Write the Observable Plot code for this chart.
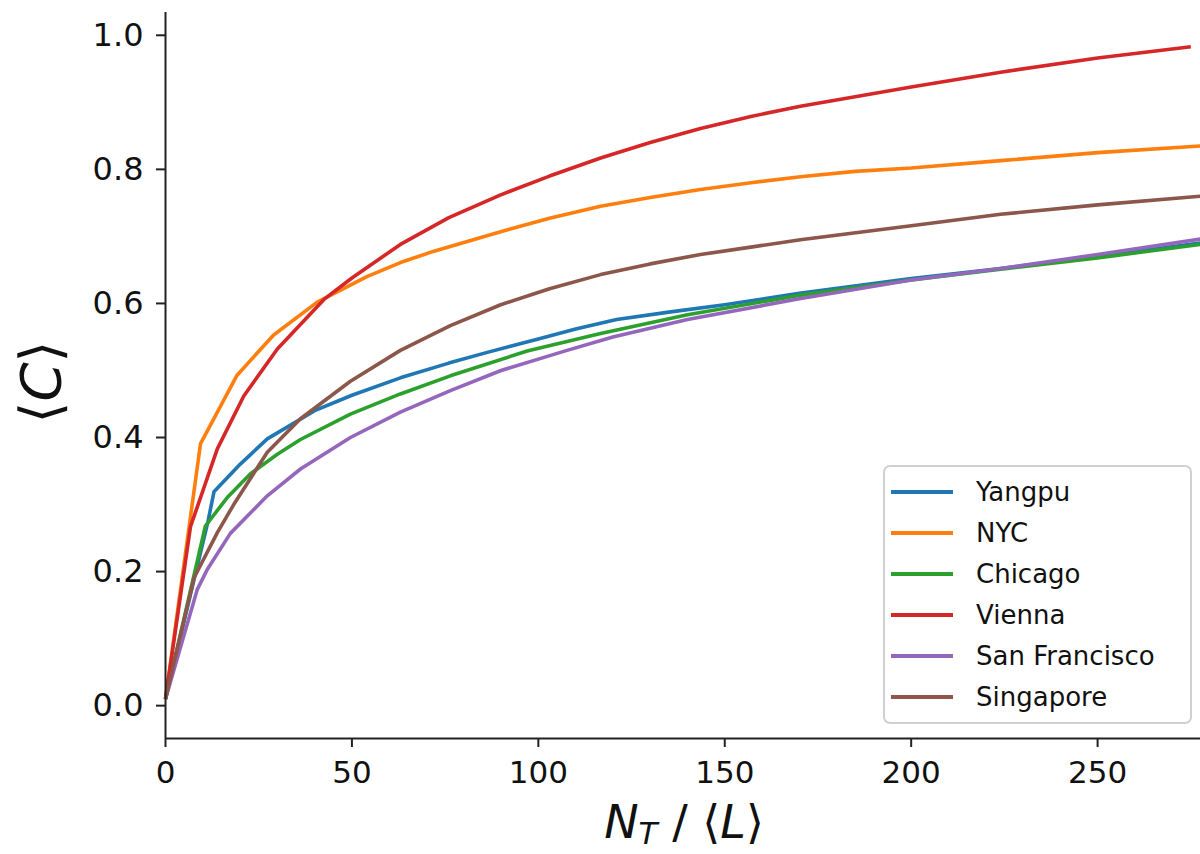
<!DOCTYPE html>
<html>
<head>
<meta charset="utf-8">
<script src="https://cdn.jsdelivr.net/npm/d3@7"></script>
<script src="https://cdn.jsdelivr.net/npm/@observablehq/plot@0.6"></script>
<style>
  html, body { margin: 0; padding: 0; background: white; }
  #wrap { position: relative; width: 1200px; height: 854px; font-family: "DejaVu Sans", sans-serif; }
  #legend { position: absolute; left: 883px; top: 465px; width: 305px; height: 255px;
    border: 2px solid #d0d0d0; border-radius: 7px; background: rgba(255,255,255,0.85); }
  .row { position: absolute; left: 0; height: 40px; }
  .swatch { position: absolute; left: 6px; width: 62px; height: 4px; }
  .lab { position: absolute; left: 91px; font-size: 26px; color: #111; white-space: nowrap; line-height: 1; }
</style>
</head>
<body>
<div id="wrap"></div>
<script>
// ---- data ----
const cities = ["Yangpu", "NYC", "Chicago", "Vienna", "San Francisco", "Singapore"];
const colors = ["#1f77b4", "#ff7f0e", "#2ca02c", "#d62728", "#9467bd", "#8c564b"];

const yangpuX = [0, 11.4, 13, 20, 27.3, 40, 50, 63, 76, 86.3, 100, 110, 121, 135, 150, 170, 200, 224, 250, 277.6];
const yangpuY = [0.01, 0.275, 0.319, 0.36, 0.398, 0.44, 0.463, 0.489, 0.511, 0.527, 0.547, 0.562, 0.576, 0.587, 0.598, 0.615, 0.637, 0.652, 0.670, 0.690];

const nycX = [0, 9.4, 19.2, 29, 40.7, 54, 63, 72, 89.9, 103, 116.7, 130, 143.5, 157, 170.3, 185, 200, 224, 250, 277.6];
const nycY = [0.01, 0.391, 0.493, 0.553, 0.602, 0.64, 0.661, 0.678, 0.707, 0.727, 0.745, 0.758, 0.770, 0.780, 0.789, 0.797, 0.802, 0.813, 0.825, 0.835];

const chicagoX = [0, 10.7, 16.5, 22.8, 30, 36.2, 49.6, 63, 76.4, 97, 116.7, 140, 170, 200, 224, 250, 277.6];
const chicagoY = [0.01, 0.268, 0.31, 0.346, 0.375, 0.397, 0.435, 0.465, 0.492, 0.529, 0.555, 0.583, 0.612, 0.635, 0.651, 0.668, 0.688];

const viennaX = [0, 6.7, 13.9, 21, 30, 42.5, 50, 63, 76, 89.9, 103, 116.7, 130, 143.5, 157, 170.3, 200, 224, 250, 275];
const viennaY = [0.01, 0.267, 0.383, 0.462, 0.532, 0.606, 0.638, 0.688, 0.728, 0.762, 0.79, 0.817, 0.840, 0.861, 0.879, 0.894, 0.923, 0.945, 0.966, 0.983];

const sfX = [0, 8.5, 11.2, 17.4, 27.3, 36.2, 49.6, 63, 76.4, 90, 107.7, 120, 140, 170, 200, 224, 250, 277.6];
const sfY = [0.01, 0.173, 0.203, 0.257, 0.313, 0.353, 0.400, 0.438, 0.47, 0.50, 0.53, 0.55, 0.576, 0.607, 0.635, 0.652, 0.673, 0.696];

const singaporeX = [0, 7.6, 13.9, 18.3, 27.3, 36.2, 49.6, 63, 76.4, 89.9, 103, 116.7, 130, 143.5, 157, 170.3, 200, 224, 250, 277.6];
const singaporeY = [0.01, 0.19, 0.258, 0.300, 0.378, 0.428, 0.484, 0.530, 0.567, 0.598, 0.622, 0.643, 0.659, 0.673, 0.684, 0.695, 0.716, 0.733, 0.747, 0.760];

const xTicks = [0, 50, 100, 150, 200, 250];
const yTicks = [0, 0.2, 0.4, 0.6, 0.8, 1.0];

// ---- build table ----
const seriesX = [yangpuX, nycX, chicagoX, viennaX, sfX, singaporeX];
const seriesY = [yangpuY, nycY, chicagoY, viennaY, sfY, singaporeY];
const rows = [];
cities.forEach((c, i) => seriesX[i].forEach((x, j) => rows.push({city: c, x, y: seriesY[i][j]})));

const xDom = [0, 277.6];
const yDom = [-0.049, 1.034];

const chart = Plot.plot({
  width: 1200,
  height: 854,
  marginLeft: 165,
  marginRight: 0,
  marginTop: 12,
  marginBottom: 116,
  style: {fontFamily: "DejaVu Sans", background: "white", color: "#111", overflow: "visible"},
  x: {domain: xDom},
  y: {domain: yDom},
  color: {domain: cities, range: colors},
  marks: [
    Plot.line(rows, {x: "x", y: "y", z: "city", stroke: "city", strokeWidth: 3.6, strokeLinejoin: "round", strokeLinecap: "butt"}),
    Plot.ruleX([0], {stroke: "#222", strokeWidth: 2}),
    Plot.ruleY([yDom[0]], {stroke: "#222", strokeWidth: 2}),
    Plot.axisX({ticks: xTicks, tickSize: 9, tickPadding: 13, fontSize: 31, label: null, strokeWidth: 2, stroke: "#222", fill: "#111"}),
    Plot.axisY({ticks: yTicks, tickSize: 9, tickPadding: 13, fontSize: 32, label: null, tickFormat: d3.format(".1f"), strokeWidth: 2, stroke: "#222", fill: "#111"})
  ]
});

const wrap = document.getElementById("wrap");
wrap.appendChild(chart);

// axis titles (real text)
const svg = d3.select(chart);
const xl = svg.append("text")
  .attr("x", 684).attr("y", 838)
  .attr("text-anchor", "middle")
  .attr("font-family", "DejaVu Sans")
  .attr("font-size", 46)
  .attr("fill", "#111");
xl.append("tspan").attr("font-style", "italic").text("N");
xl.append("tspan").attr("font-style", "italic").attr("font-size", 31).attr("dy", 6).text("T");
xl.append("tspan").attr("dy", -6).text(" / ⟨");
xl.append("tspan").attr("font-style", "italic").text("L");
xl.append("tspan").text("⟩");

const yl = svg.append("text")
  .attr("transform", "translate(60,382) rotate(-90)")
  .attr("text-anchor", "middle")
  .attr("font-family", "DejaVu Sans")
  .attr("font-size", 56)
  .attr("fill", "#111");
yl.append("tspan").text("⟨");
yl.append("tspan").attr("font-style", "italic").text("C");
yl.append("tspan").text("⟩");

// legend
const leg = document.createElement("div");
leg.id = "legend";
const rowTops = [25, 66, 107, 148, 189, 230];
cities.forEach((c, i) => {
  const r = document.createElement("div");
  r.className = "row";
  r.style.top = (rowTops[i] - 2) + "px";
  const sw = document.createElement("div");
  sw.className = "swatch";
  sw.style.background = colors[i];
  sw.style.top = "0px";
  const t = document.createElement("div");
  t.className = "lab";
  t.style.top = "-11px";
  t.textContent = c;
  r.appendChild(sw); r.appendChild(t);
  leg.appendChild(r);
});
wrap.appendChild(leg);
</script>
</body>
</html>
